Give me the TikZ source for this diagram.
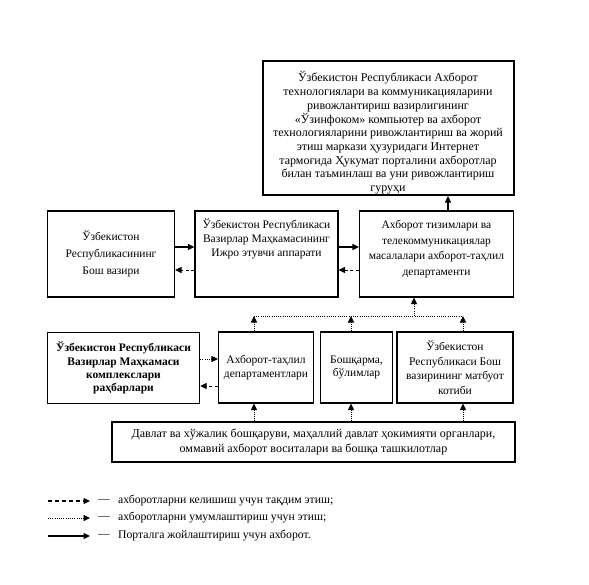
\documentclass[tikz,border=0pt]{standalone}
\usepackage{fontspec}
\setmainfont{Liberation Serif}
\usetikzlibrary{arrows.meta}
\begin{document}
\begin{tikzpicture}[x=1pt,y=-1pt,
  box/.style={draw,line width=1.1pt,align=center,inner sep=1pt,font=\fontsize{11.5}{14.5}\selectfont},
  txt/.style={align=center,inner sep=0pt},
  tip/.style={-{Triangle[length=6.5pt,width=6pt]}},
  solidarr/.style={tip,line width=1.3pt},
  dasharr/.style={tip,line width=1pt,dash pattern=on 3pt off 2.5pt},
  dotarr/.style={tip,line width=0.9pt,dash pattern=on 1pt off 1.2pt},
  dotline/.style={line width=0.9pt,dash pattern=on 1pt off 1.2pt},
  legtext/.style={anchor=west,inner sep=0pt,font=\fontsize{11.7}{13}\selectfont}
]
\useasboundingbox (0,0) rectangle (589,584);
\fill[white] (0,0) rectangle (589,584);

\node[box,line width=2pt,minimum width=251pt,minimum height=134pt] (top) at (388,128) {};
\node[txt,font=\fontsize{12}{13.7}\selectfont] (topt) at (388,133)
 {Ўзбекистон Республикаси Ахборот\\технологиялари ва коммуникацияларини\\ривожлантириш вазирлигининг\\«Ўзинфоком» компьютер ва ахборот\\технологияларини ривожлантириш ва жорий\\этиш маркази ҳузуридаги Интернет\\тармоғида Ҳукумат порталини ахборотлар\\билан таъминлаш ва уни ривожлантириш\\гуруҳи};

\node[box,minimum width=127pt,minimum height=86pt,font=\fontsize{11.5}{17}\selectfont] (a) at (111,254)
 {Ўзбекистон\\Республикасининг\\Бош вазири};
\node[box,minimum width=143pt,minimum height=86pt] (b) at (266.5,254) {};
\node[txt,font=\fontsize{11.5}{14}\selectfont] (bt) at (266.5,239)
 {Ўзбекистон Республикаси\\Вазирлар Маҳкамасининг\\Ижро этувчи аппарати};
\node[box,minimum width=154pt,minimum height=86pt] (c) at (436.5,254) {};
\node[txt,font=\fontsize{11.5}{15.6}\selectfont] (ct) at (436.5,249)
 {Ахборот тизимлари ва\\телекоммуникациялар\\масалалари ахборот-таҳлил\\департаменти};

\node[box,line width=1.4pt,minimum width=152pt,minimum height=71pt,font=\bfseries\fontsize{11.5}{13.3}\selectfont] (d) at (123.5,368)
 {Ўзбекистон Республикаси\\Вазирлар Маҳкамаси\\комплекслари\\раҳбарлари};
\node[box,minimum width=95pt,minimum height=71pt,font=\fontsize{11.5}{13.3}\selectfont] (e) at (266,367.5)
 {Ахборот-таҳлил\\департаментлари};
\node[box,minimum width=72pt,minimum height=71pt,font=\fontsize{11.5}{13.3}\selectfont] (f) at (356.5,367.5)
 {Бошқарма,\\бўлимлар};
\node[box,minimum width=116pt,minimum height=71pt,font=\fontsize{11.5}{14.5}\selectfont] (g) at (455,367.5)
 {Ўзбекистон\\Республикаси Бош\\вазирининг матбуот\\котиби};

\node[box,minimum width=403pt,minimum height=40pt,font=\fontsize{12}{15}\selectfont] (h) at (313.5,442)
 {Давлат ва хўжалик бошқаруви, маҳаллий давлат ҳокимияти органлари,\\оммавий ахборот воситалари ва бошқа ташкилотлар};

% top connection
\draw[solidarr] (c.north -| 448,0) -- (top.south -| 448,0);

% A <-> B, B <-> C
\draw[solidarr] (a.east |- 0,247) -- (b.west |- 0,247);
\draw[dasharr] (b.west |- 0,270) -- (a.east |- 0,270);
\draw[solidarr] (b.east |- 0,247) -- (c.west |- 0,247);
\draw[dasharr] (c.west |- 0,270) -- (b.east |- 0,270);

% D <-> E
\draw[dotarr] (d.east |- 0,359) -- (e.west |- 0,359);
\draw[dasharr] (e.west |- 0,386) -- (d.east |- 0,386);

% hub
\coordinate (he) at (254,316);
\coordinate (hf) at (351,316);
\coordinate (hc) at (414,316);
\coordinate (hg) at (463,316);
\draw[dotline] (he) -- (hg);
\draw[dotarr] (e.north -| he) -- (he);
\draw[dotarr] (f.north -| hf) -- (hf);
\draw[dotarr] (g.north -| hg) -- (hg);
\draw[dotarr] (hc) -- (c.south -| hc);

% from H
\draw[dotarr] (h.north -| he) -- (e.south -| he);
\draw[dotarr] (h.north -| hf) -- (f.south -| hf);
\draw[dotarr] (h.north -| hg) -- (g.south -| hg);

% legend
\coordinate (l1a) at (48,501); \coordinate (l1b) at (90,501);
\coordinate (l2a) at (48,518); \coordinate (l2b) at (90,518);
\coordinate (l3a) at (48,536); \coordinate (l3b) at (90,536);
\draw[dasharr,line width=1.3pt,dash pattern=on 4pt off 3pt] (l1a) -- (l1b);
\draw[dotarr] (l2a) -- (l2b);
\draw[solidarr,line width=1.6pt] (l3a) -- (l3b);
\node[legtext] (d1) at (98,501) {—};
\node[legtext] (d2) at (98,518) {—};
\node[legtext] (d3) at (98,536) {—};
\node[legtext] (t1) at (118,501) {ахборотларни келишиш учун тақдим этиш;};
\node[legtext] (t2) at (118,518) {ахборотларни умумлаштириш учун этиш;};
\node[legtext] (t3) at (118,536) {Порталга жойлаштириш учун ахборот.};
\end{tikzpicture}
\end{document}
